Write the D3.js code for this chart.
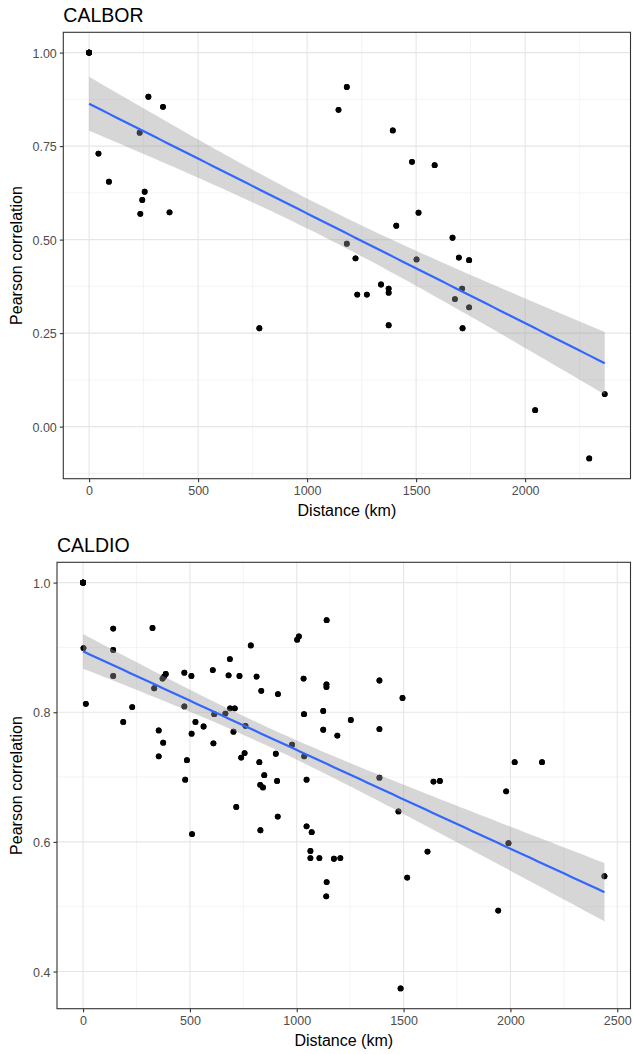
<!DOCTYPE html>
<html>
<head>
    <title>Pearson correlation vs distance</title>
    <script src="https://d3js.org/d3.v7.min.js"></script>
    <style>
        body { margin: 0; background: #fff; }
        svg text { font-family: "Liberation Sans", Arial, sans-serif; }
        .tick-label { font-size: 12.5px; fill: #4d4d4d; }
        .axis-title { font-size: 16px; fill: #000; }
        .plot-title { font-size: 19.5px; fill: #000; }
    </style>
</head>
<body>
    <svg width="633" height="1054"></svg>
    <script>
        // CALBOR: site pairs, distance (km) and Pearson correlation
        const calborSites = 9;
        const calborDist = [43, 91, 232, 235, 244, 255, 272, 339, 369, 781, 1144, 1182, 1182, 1222,
            1230, 1274, 1339, 1374, 1374, 1374, 1393, 1409, 1481, 1502, 1511, 1585, 1667, 1678, 1696,
            1711, 1713, 1743, 1743, 2046, 2294, 2365];
        const calborCor = [0.730, 0.655, 0.786, 0.569, 0.606, 0.628, 0.882, 0.855, 0.573, 0.263, 0.847, 0.908, 0.489, 0.450,
            0.353, 0.353, 0.380, 0.369, 0.358, 0.271, 0.792, 0.537, 0.708, 0.447, 0.572, 0.699, 0.505, 0.341, 0.452,
            0.369, 0.263, 0.445, 0.319, 0.044, -0.085, 0.087];

        // CALDIO site pairs
        const caldioSites = 14;
        const caldioDist = [2, 13, 141, 141, 141, 188, 230, 325, 333, 354, 354, 372, 379, 387, 375,
            474, 474, 478, 486, 507, 508, 510, 526, 564, 607, 610, 614, 666, 681, 687, 688, 710, 704,
            717, 732, 740, 756, 760, 785, 812, 825, 829, 830, 834, 842, 848, 902, 908, 911, 912, 978,
            1002, 1010, 1032, 1034, 1035, 1046, 1046, 1070, 1064, 1064, 1106, 1124, 1124, 1138, 1140,
            1139, 1139, 1140, 1174, 1190, 1204, 1253, 1387, 1387, 1387, 1476, 1486, 1495, 1517, 1612,
            1640, 1670, 1943, 1980, 1991, 2020, 2148, 2440];
        const caldioCor = [0.899, 0.813, 0.929, 0.896, 0.856, 0.785, 0.808, 0.930, 0.837, 0.772, 0.732, 0.852, 0.855, 0.859, 0.753,
            0.861, 0.809, 0.696, 0.726, 0.856, 0.767, 0.612, 0.785, 0.778, 0.865, 0.752, 0.797, 0.798, 0.857, 0.882, 0.806, 0.806, 0.770,
            0.654, 0.856, 0.730, 0.737, 0.779, 0.903, 0.855, 0.723, 0.688, 0.618, 0.833, 0.684, 0.703, 0.736, 0.694, 0.639, 0.828, 0.750,
            0.912, 0.917, 0.852, 0.797, 0.732, 0.696, 0.624, 0.615, 0.586, 0.575, 0.575, 0.802, 0.773, 0.516, 0.538,
            0.843, 0.839, 0.942, 0.574, 0.764, 0.575, 0.788, 0.849, 0.774, 0.699, 0.647, 0.374, 0.822, 0.545, 0.585,
            0.693, 0.694, 0.494, 0.678, 0.598, 0.723, 0.723, 0.547];

        const calborXTicks = [0, 500, 1000, 1500, 2000];
        const calborYTicks = [0, 0.25, 0.5, 0.75, 1.0];
        const caldioXTicks = [0, 500, 1000, 1500, 2000, 2500];
        const caldioYTicks = [0.4, 0.6, 0.8, 1.0];

        const svg = d3.select("svg");

        // full correlation matrix in long form: each pair in both directions,
        // plus every site against itself (distance 0, r = 1)
        function fullMatrix(sites, dist, cor) {
            return {
                xs: dist.concat(dist, d3.range(sites).map(() => 0)),
                ys: cor.concat(cor, d3.range(sites).map(() => 1))
            };
        }

        // t quantile (0.975) via Cornish-Fisher expansion
        function tQuantile(df) {
            const z = 1.959964;
            return z + (z ** 3 + z) / (4 * df)
                + (5 * z ** 5 + 16 * z ** 3 + 3 * z) / (96 * df * df)
                + (3 * z ** 7 + 19 * z ** 5 + 17 * z ** 3 - 15 * z) / (384 * df ** 3);
        }

        // linear fit with 95% confidence band, evaluated on 80 points like geom_smooth
        function lmFit(xs, ys) {
            const n = xs.length;
            const mx = d3.mean(xs), my = d3.mean(ys);
            let sxx = 0, sxy = 0;
            xs.forEach((x, i) => { sxx += (x - mx) ** 2; sxy += (x - mx) * (ys[i] - my); });
            const b = sxy / sxx, a = my - b * mx;
            let sse = 0;
            xs.forEach((x, i) => { sse += (ys[i] - a - b * x) ** 2; });
            const s = Math.sqrt(sse / (n - 2));
            const t = tQuantile(n - 2);
            const [x0, x1] = d3.extent(xs);
            return d3.range(80).map(k => {
                const x = x0 + (x1 - x0) * k / 79;
                const fit = a + b * x;
                const se = s * Math.sqrt(1 / n + (x - mx) ** 2 / sxx);
                return { x, fit, lo: fit - t * se, hi: fit + t * se };
            });
        }

        function expand(ext) {
            const pad = (ext[1] - ext[0]) * 0.05;
            return [ext[0] - pad, ext[1] + pad];
        }

        function drawPanel(cfg) {
            const { title, xs, ys, xTicks, yTicks, yFmt, left, top, right, bottom } = cfg;
            const fit = lmFit(xs, ys);
            const pts = xs.map((x, i) => ({ x, y: ys[i] }));

            const xScale = d3.scaleLinear().domain(expand(d3.extent(xs))).range([left, right]);
            const yExt = d3.extent(ys.concat(fit.map(d => d.lo), fit.map(d => d.hi)));
            const yScale = d3.scaleLinear().domain(expand(yExt)).range([bottom, top]);

            const g = svg.append("g");

            // minor grid
            const xDom = xScale.domain(), yDom = yScale.domain();
            const xStep = xTicks[1] - xTicks[0], yStep = yTicks[1] - yTicks[0];
            const xMinor = d3.range(xTicks[0] - xStep / 2, xDom[1], xStep).filter(v => v > xDom[0]);
            const yMinor = d3.range(yTicks[0] - yStep / 2, yDom[1], yStep).filter(v => v > yDom[0]);

            g.selectAll(".xminor").data(xMinor).join("line")
                .attr("x1", d => xScale(d)).attr("x2", d => xScale(d))
                .attr("y1", top).attr("y2", bottom)
                .attr("stroke", "#ececec").attr("stroke-width", 0.6);
            g.selectAll(".yminor").data(yMinor).join("line")
                .attr("x1", left).attr("x2", right)
                .attr("y1", d => yScale(d)).attr("y2", d => yScale(d))
                .attr("stroke", "#ececec").attr("stroke-width", 0.6);
            g.selectAll(".xmajor").data(xTicks).join("line")
                .attr("x1", d => xScale(d)).attr("x2", d => xScale(d))
                .attr("y1", top).attr("y2", bottom)
                .attr("stroke", "#e6e6e6").attr("stroke-width", 1.1);
            g.selectAll(".ymajor").data(yTicks).join("line")
                .attr("x1", left).attr("x2", right)
                .attr("y1", d => yScale(d)).attr("y2", d => yScale(d))
                .attr("stroke", "#e6e6e6").attr("stroke-width", 1.1);

            // points, then ribbon and fitted line on top
            g.selectAll(".pt").data(pts).join("circle")
                .attr("cx", d => xScale(d.x)).attr("cy", d => yScale(d.y))
                .attr("r", 2.9).attr("fill", "#000");

            g.append("path").datum(fit)
                .attr("d", d3.area().x(d => xScale(d.x)).y0(d => yScale(d.lo)).y1(d => yScale(d.hi)))
                .attr("fill", "#999999").attr("fill-opacity", 0.4);

            g.append("path").datum(fit)
                .attr("d", d3.line().x(d => xScale(d.x)).y(d => yScale(d.fit)))
                .attr("fill", "none").attr("stroke", "#3366FF").attr("stroke-width", 2.2);

            // panel border
            g.append("rect").attr("x", left).attr("y", top)
                .attr("width", right - left).attr("height", bottom - top)
                .attr("fill", "none").attr("stroke", "#333333").attr("stroke-width", 1.1);

            // axes
            const xAxis = d3.axisBottom(xScale).tickValues(xTicks).tickSize(3.5).tickPadding(3.5).tickFormat(d3.format("d"));
            const yAxis = d3.axisLeft(yScale).tickValues(yTicks).tickSize(3.5).tickPadding(3).tickFormat(d3.format(yFmt));
            const xa = g.append("g").attr("transform", `translate(0,${bottom})`).call(xAxis);
            const ya = g.append("g").attr("transform", `translate(${left},0)`).call(yAxis);
            [xa, ya].forEach(a => {
                a.select(".domain").remove();
                a.selectAll(".tick line").attr("stroke", "#333333").attr("stroke-width", 1.1);
                a.selectAll(".tick text").attr("class", "tick-label").attr("font-family", null).attr("font-size", null).attr("fill", null);
            });
            ya.selectAll(".tick text").attr("dy", "0.36em");

            g.append("text").attr("class", "axis-title")
                .attr("x", (left + right) / 2).attr("y", bottom + 37)
                .attr("text-anchor", "middle").text("Distance (km)");
            g.append("text").attr("class", "axis-title")
                .attr("transform", `translate(22,${(top + bottom) / 2}) rotate(-90)`)
                .attr("text-anchor", "middle").text("Pearson correlation");
            g.append("text").attr("class", "plot-title")
                .attr("x", left).attr("y", top - 10.6).text(title);
        }

        const calbor = fullMatrix(calborSites, calborDist, calborCor);
        const caldio = fullMatrix(caldioSites, caldioDist, caldioCor);

        drawPanel({ title: "CALBOR", xs: calbor.xs, ys: calbor.ys, xTicks: calborXTicks, yTicks: calborYTicks,
            yFmt: ".2f", left: 63.3, top: 32.3, right: 630.5, bottom: 478.7 });
        drawPanel({ title: "CALDIO", xs: caldio.xs, ys: caldio.ys, xTicks: caldioXTicks, yTicks: caldioYTicks,
            yFmt: ".1f", left: 57, top: 562.3, right: 630.5, bottom: 1008.7 });
    </script>
</body>
</html>
